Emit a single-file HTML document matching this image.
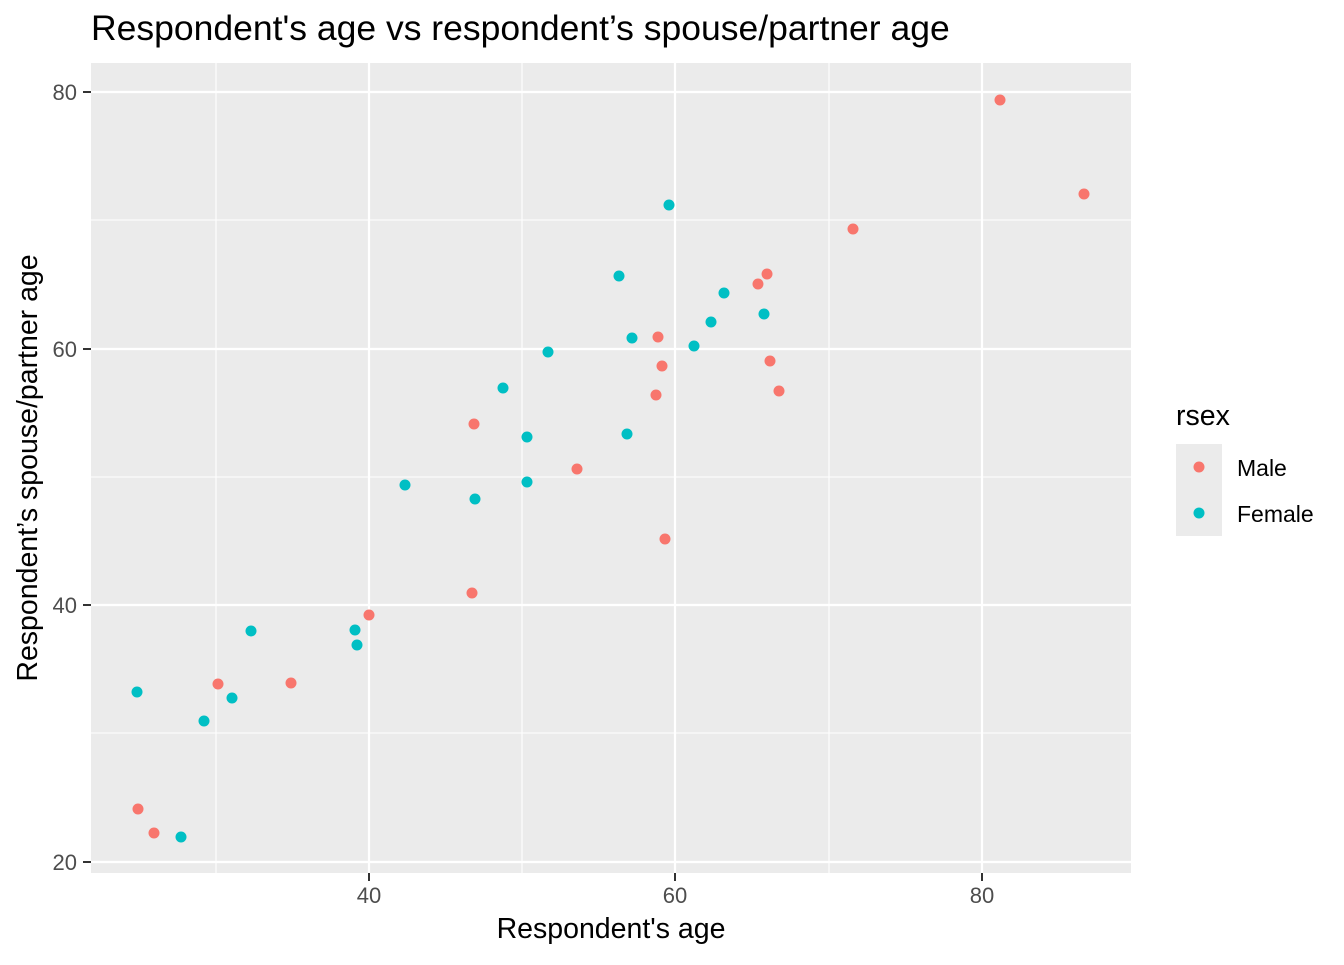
<!DOCTYPE html>
<html><head><style>body{margin:0;background:#fff}</style></head><body>
<svg width="1344" height="960" xmlns="http://www.w3.org/2000/svg" font-family="Liberation Sans, sans-serif">
<rect x="91" y="63" width="1040" height="810" fill="#EBEBEB"/>
<g stroke="#fff" stroke-width="1.1">
<line x1="216" y1="63" x2="216" y2="873"/><line x1="522" y1="63" x2="522" y2="873"/><line x1="829" y1="63" x2="829" y2="873"/>
<line x1="91" y1="220" x2="1131" y2="220"/><line x1="91" y1="477" x2="1131" y2="477"/><line x1="91" y1="733" x2="1131" y2="733"/>
</g>
<g stroke="#fff" stroke-width="2.2">
<line x1="369" y1="63" x2="369" y2="873"/><line x1="675" y1="63" x2="675" y2="873"/><line x1="982" y1="63" x2="982" y2="873"/>
<line x1="91" y1="92" x2="1131" y2="92"/><line x1="91" y1="349" x2="1131" y2="349"/><line x1="91" y1="605" x2="1131" y2="605"/><line x1="91" y1="862" x2="1131" y2="862"/>
</g>
<g fill="#F8766D">
<circle cx="1000" cy="100" r="5.5"/><circle cx="1084" cy="194" r="5.5"/><circle cx="853" cy="229" r="5.5"/><circle cx="767" cy="274" r="5.5"/><circle cx="758" cy="284" r="5.5"/><circle cx="658" cy="337" r="5.5"/><circle cx="770" cy="361" r="5.5"/><circle cx="662" cy="366" r="5.5"/><circle cx="779" cy="391" r="5.5"/><circle cx="656" cy="395" r="5.5"/><circle cx="474" cy="424" r="5.5"/><circle cx="577" cy="469" r="5.5"/><circle cx="665" cy="539" r="5.5"/><circle cx="472" cy="593" r="5.5"/><circle cx="369" cy="615" r="5.5"/><circle cx="218" cy="684" r="5.5"/><circle cx="291" cy="683" r="5.5"/><circle cx="138" cy="809" r="5.5"/><circle cx="154" cy="833" r="5.5"/>
</g>
<g fill="#00BFC4">
<circle cx="669" cy="205" r="5.5"/><circle cx="619" cy="276" r="5.5"/><circle cx="724" cy="293" r="5.5"/><circle cx="711" cy="322" r="5.5"/><circle cx="764" cy="314" r="5.5"/><circle cx="632" cy="338" r="5.5"/><circle cx="694" cy="346" r="5.5"/><circle cx="548" cy="352" r="5.5"/><circle cx="503" cy="388" r="5.5"/><circle cx="627" cy="434" r="5.5"/><circle cx="527" cy="437" r="5.5"/><circle cx="405" cy="485" r="5.5"/><circle cx="527" cy="482" r="5.5"/><circle cx="475" cy="499" r="5.5"/><circle cx="251" cy="631" r="5.5"/><circle cx="355" cy="630" r="5.5"/><circle cx="357" cy="645" r="5.5"/><circle cx="137" cy="692" r="5.5"/><circle cx="232" cy="698" r="5.5"/><circle cx="204" cy="721" r="5.5"/><circle cx="181" cy="837" r="5.5"/>
</g>
<g stroke="#333" stroke-width="2">
<line x1="83" y1="92" x2="91" y2="92"/><line x1="83" y1="349" x2="91" y2="349"/><line x1="83" y1="605" x2="91" y2="605"/><line x1="83" y1="862" x2="91" y2="862"/>
<line x1="369" y1="873" x2="369" y2="881"/><line x1="675" y1="873" x2="675" y2="881"/><line x1="982" y1="873" x2="982" y2="881"/>
</g>
<g fill="#4D4D4D" font-size="22" text-anchor="end">
<text x="77" y="100">80</text><text x="77" y="357">60</text><text x="77" y="613">40</text><text x="77" y="870">20</text>
</g>
<g fill="#4D4D4D" font-size="22" text-anchor="middle">
<text x="369" y="903">40</text><text x="675" y="903">60</text><text x="982" y="903">80</text>
</g>
<text x="611" y="938" font-size="28.5" text-anchor="middle">Respondent's age</text>
<text transform="translate(37,468) rotate(-90)" font-size="28.5" text-anchor="middle">Respondent’s spouse/partner age</text>
<text x="91" y="40" font-size="35.5">Respondent's age vs respondent’s spouse/partner age</text>
<text x="1176" y="425" font-size="28.5">rsex</text>
<rect x="1176" y="444" width="46" height="92" fill="#EBEBEB"/>
<circle cx="1199" cy="467" r="5.5" fill="#F8766D"/><circle cx="1199" cy="513" r="5.5" fill="#00BFC4"/>
<text x="1237" y="476" font-size="23">Male</text><text x="1237" y="522" font-size="23">Female</text>
</svg>
</body></html>
